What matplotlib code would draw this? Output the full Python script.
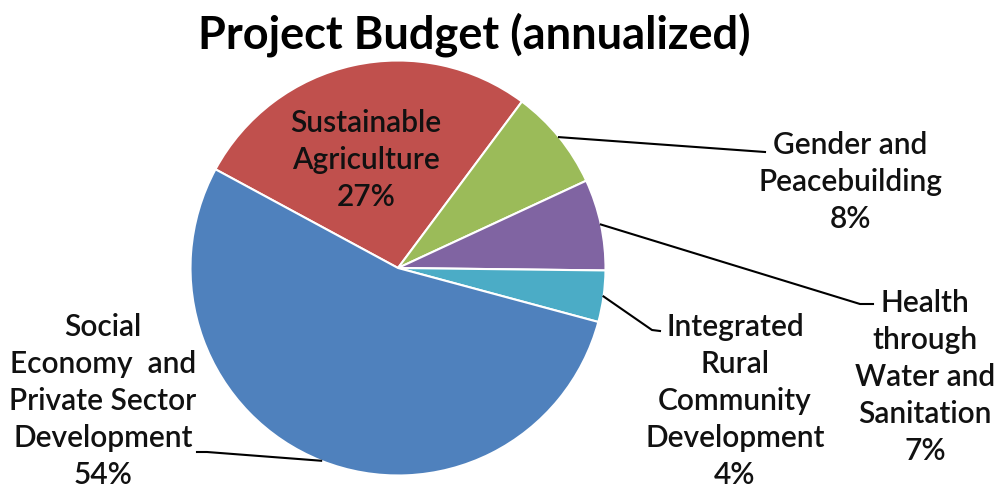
import numpy as np
import matplotlib
matplotlib.use("Agg")
import matplotlib.pyplot as plt

# ---- data ----
categories = ["Sustainable\nAgriculture", "Gender and\nPeacebuilding",
              "Health\nthrough\nWater and\nSanitation",
              "Integrated\nRural\nCommunity\nDevelopment",
              "Social\nEconomy  and\nPrivate Sector\nDevelopment"]
values = [27.3, 7.9, 7.1, 4.0, 53.7]
colors = ["#C0504D", "#9BBB59", "#8064A2", "#4BACC6", "#4F81BD"]
title = "Project Budget (annualized)"

W, H = 997, 491
fig = plt.figure(figsize=(W / 100, H / 100), dpi=100)
ax = fig.add_axes([0, 0, 1, 1])

cx, cy, R = 398, H - 268, 207.5
wedges, _ = ax.pie(values, colors=colors, startangle=151.6, counterclock=False,
                   center=(cx, cy), radius=R,
                   wedgeprops=dict(edgecolor="white", linewidth=1.5))
ax.set_xlim(0, W)
ax.set_ylim(0, H)
ax.set_aspect("auto")
ax.axis("off")

fam = ["Lato", "DejaVu Sans"]
lab_fs = 21.5
total = sum(values)
pct = [f"{v / total * 100:.0f}%" for v in values]

# label positions (pixel coords from top) and leader line bends
label_pos = [(366, 160), (850, 182), (925, 377), (735, 401), (103, 401)]
bends = [None,
         [(765, 152)],
         [(860, 304), (873, 304)],
         [(652, 330), (660, 331)],
         [(207, 452), (197, 452)]]

for i, w in enumerate(wedges):
    txt = categories[i] + "\n" + pct[i]
    x, y = label_pos[i]
    ax.text(x, H - y, txt, ha="center", va="center", fontsize=lab_fs,
            family=fam, fontweight="semibold", color="#111111", linespacing=1.39)
    if bends[i] is not None:
        mid = np.deg2rad((w.theta1 + w.theta2) / 2)
        pts = [(cx + R * np.cos(mid), cy + R * np.sin(mid))] + \
              [(bx, H - by) for bx, by in bends[i]]
        xs, ys = zip(*pts)
        ax.plot(xs, ys, color="black", lw=1.5)

ax.text(474, H - 35, title, ha="center", va="center", fontsize=32.5,
        family=fam, fontweight="bold", color="black")

fig.savefig("out.png", dpi=100, facecolor="white")
